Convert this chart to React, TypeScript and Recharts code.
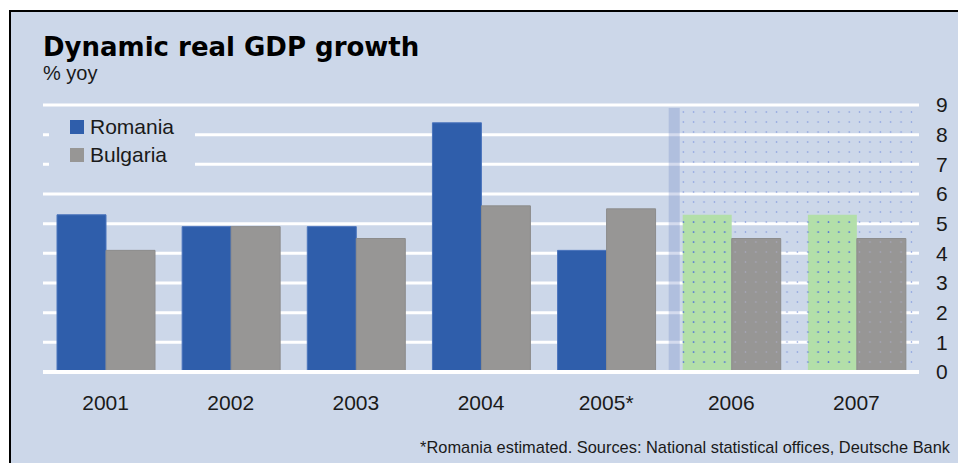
import React from "react";
import {
  BarChart,
  Bar,
  XAxis,
  YAxis,
  CartesianGrid,
  ReferenceArea,
  ReferenceLine,
  Legend,
  Cell,
} from "recharts";

// real GDP growth, % yoy
const years = ["2001", "2002", "2003", "2004", "2005*", "2006", "2007"];
const romania = [5.3, 4.9, 4.9, 8.4, 4.1, 5.3, 5.3];
const bulgaria = [4.1, 4.9, 4.5, 5.6, 5.5, 4.5, 4.5];
const forecastYears = ["2006", "2007"];
const yTicks = [0, 1, 2, 3, 4, 5, 6, 7, 8, 9];
const seriesOrder = ["Romania", "Bulgaria"];

const data = years.map((year, i) => ({
  year,
  Romania: romania[i],
  Bulgaria: bulgaria[i],
}));

const BG = "#CCD7E9";
const BLUE = "#2F5EAB";
const GREY = "#979695";
const GREEN = "#B3DFA9";
const FONT = "'Liberation Sans', Arial, sans-serif";

const isForecast = (year: string) => forecastYears.includes(year);

// stripe + dotted area over the forecast years
const ForecastShape = (props: any) => {
  const { x, y, width, height } = props;
  if (x == null || width == null) return null;
  return (
    <g>
      <rect x={x} y={y} width={11} height={height} fill="#6F87C8" fillOpacity={0.3} />
      <rect x={x + 11} y={y} width={width - 14} height={height} fill="url(#dotsBg)" />
    </g>
  );
};

const renderLegend = (props: any) => {
  const items = [...(props.payload || [])].sort(
    (a: any, b: any) => seriesOrder.indexOf(a.value) - seriesOrder.indexOf(b.value)
  );
  return (
    <div style={{ background: BG, paddingLeft: 21, fontFamily: FONT, fontSize: 21, color: "#1a1a1a" }}>
      {items.map((entry: any) => (
        <div key={entry.value} style={{ display: "flex", alignItems: "center", height: 28 }}>
          <span style={{ width: 14, height: 14, background: entry.color, marginRight: 6, display: "inline-block" }} />
          <span>{entry.value}</span>
        </div>
      ))}
    </div>
  );
};

const DotPattern = ({ id, bg, dot, r }: { id: string; bg?: string; dot: string; r: number }) => (
  <pattern id={id} patternUnits="userSpaceOnUse" width={10.37} height={10} x={683.3 - 5.185} y={112 - 5}>
    {bg && <rect x={0} y={0} width={10.37} height={10} fill={bg} />}
    <circle cx={5.185} cy={5} r={r} fill={dot} />
  </pattern>
);

export default function App() {
  return (
    <div style={{ position: "absolute", left: 0, top: 0, width: 958, height: 463, background: "#fff", overflow: "hidden" }}>
      <svg width={0} height={0} style={{ position: "absolute" }}>
        <defs>
          <DotPattern id="dotsBg" dot="#7E94DD" r={0.8} />
          <DotPattern id="dotsGreen" bg={GREEN} dot="#3D5DE2" r={0.85} />
          <DotPattern id="dotsGrey" bg={GREY} dot="#A9AAC2" r={0.8} />
        </defs>
      </svg>
      <div
        style={{
          position: "absolute",
          left: 9,
          top: 10,
          width: 949,
          height: 453,
          background: BG,
          borderTop: "2px solid #000",
          borderLeft: "2px solid #000",
          boxSizing: "border-box",
        }}
      />
      <div
        style={{
          position: "absolute",
          left: 43,
          top: 34,
          fontFamily: "'DejaVu Sans', sans-serif",
          fontWeight: "bold",
          fontSize: 26,
          lineHeight: "26px",
          color: "#000",
          whiteSpace: "nowrap",
        }}
      >
        Dynamic real GDP growth
      </div>
      <div
        style={{
          position: "absolute",
          left: 43,
          top: 63,
          fontFamily: FONT,
          fontSize: 20,
          lineHeight: "20px",
          color: "#1a1a1a",
          whiteSpace: "nowrap",
        }}
      >
        % yoy
      </div>
      <div style={{ position: "absolute", left: 0, top: 0 }}>
        <BarChart
          width={958}
          height={463}
          data={data}
          margin={{ top: 105, right: 9, left: 43, bottom: 51 }}
          barCategoryGap={14}
          barGap={0}
        >
          <CartesianGrid horizontal vertical={false} stroke="#fff" strokeWidth={3} />
          <XAxis
            dataKey="year"
            height={40}
            axisLine={false}
            tickLine={false}
            tickSize={0}
            tickMargin={23}
            interval={0}
            tick={{ fontSize: 21, fill: "#1a1a1a", fontFamily: FONT }}
          />
          <YAxis
            orientation="right"
            width={30}
            domain={[0, 9]}
            ticks={yTicks}
            axisLine={false}
            tickLine={false}
            tickSize={0}
            tickMargin={17}
            interval={0}
            tick={{ fontSize: 21, fill: "#1a1a1a", fontFamily: FONT }}
          />
          <Legend
            layout="vertical"
            align="center"
            verticalAlign="middle"
            wrapperStyle={{ top: 113, left: 49, width: 146, height: 56 }}
            content={renderLegend}
          />
          <Bar dataKey="Romania" fill={BLUE} stroke="#4B74BC" strokeWidth={1} isAnimationActive={false}>
            {data.map((d, i) => (
              <Cell
                key={`ro-${i}`}
                fill={isForecast(d.year) ? "url(#dotsGreen)" : BLUE}
                stroke={isForecast(d.year) ? "none" : "#4B74BC"}
              />
            ))}
          </Bar>
          <Bar dataKey="Bulgaria" fill={GREY} stroke="#8C8C8C" strokeWidth={1} isAnimationActive={false}>
            {data.map((d, i) => (
              <Cell key={`bg-${i}`} fill={isForecast(d.year) ? "url(#dotsGrey)" : GREY} />
            ))}
          </Bar>
          <ReferenceLine y={0} stroke="#fff" strokeWidth={4} />
          <ReferenceArea
            x1={forecastYears[0]}
            x2={forecastYears[forecastYears.length - 1]}
            y1={0}
            y2={8.9}
            shape={<ForecastShape />}
          />
        </BarChart>
      </div>
      <div
        style={{
          position: "absolute",
          right: 8,
          top: 439,
          fontFamily: FONT,
          fontSize: 16.4,
          lineHeight: "16.4px",
          color: "#1a1a1a",
          whiteSpace: "nowrap",
        }}
      >
        *Romania estimated. Sources: National statistical offices, Deutsche Bank
      </div>
    </div>
  );
}
